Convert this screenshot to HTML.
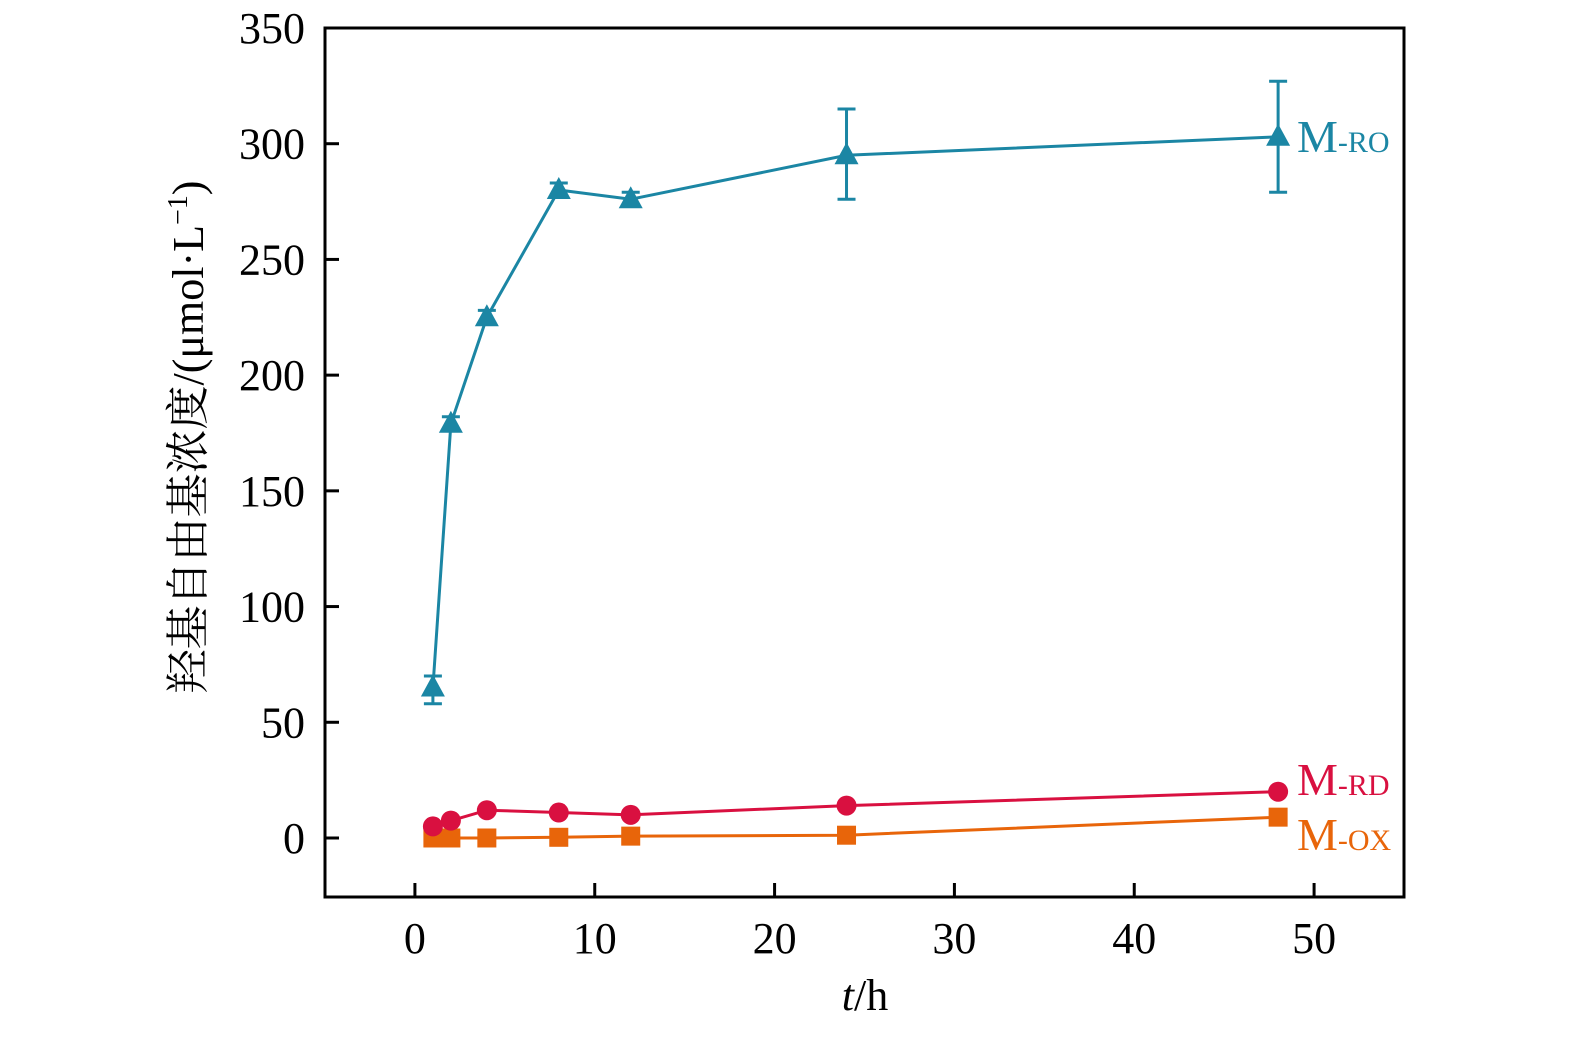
<!DOCTYPE html>
<html><head><meta charset="utf-8"><style>
body{margin:0;background:#fff;}
svg text{font-family:"Liberation Serif","Noto Serif CJK SC",serif;}
</style></head><body>
<svg width="1575" height="1032" viewBox="0 0 1575 1032" id="chart">
</svg>
<script>
const timesH=[1,2,4,8,12,24,48];
const roValues=[65,179,225,280,276,295,303];
const roErrLow=[58,176,222,277,273,276,279];
const roErrHigh=[70,182,228,283,279,315,327];
const rdValues=[5,7.5,12,11,10,14,20];
const oxValues=[0,0,0,0.3,0.8,1.2,9];
const xTicks=[0,10,20,30,40,50];
const yTicks=[0,50,100,150,200,250,300,350];
const L=325,R=1404,T=28,B=897;
const xMin=-5,xMax=55,yMin=-25.5,yMax=350;
const X=v=>L+(v-xMin)/(xMax-xMin)*(R-L);
const Y=v=>B-(v-yMin)/(yMax-yMin)*(B-T);
const svg=document.getElementById('chart');
const NS='http://www.w3.org/2000/svg';
function mk(tag,attrs,parent){const e=document.createElementNS(NS,tag);for(const k in attrs)e.setAttribute(k,attrs[k]);(parent||svg).appendChild(e);return e;}
let e;
e=mk('rect',{x:L,y:T,width:R-L,height:B-T,fill:'none',stroke:'#000','stroke-width':3});


xTicks.forEach(t=>{
 e=mk('line',{x1:X(t),x2:X(t),y1:B,y2:B-14,stroke:'#000','stroke-width':3});
 
 
 e=mk('text',{x:X(t),y:953,'font-size':44,'text-anchor':'middle'});e.textContent=t;
 
 
});
yTicks.forEach(t=>{
 e=mk('line',{x1:L,x2:L+14,y1:Y(t),y2:Y(t),stroke:'#000','stroke-width':3});
 
 
 e=mk('text',{x:305,y:Y(t)+15,'font-size':44,'text-anchor':'end'});e.textContent=t;
 
 
});
e=mk('text',{x:865,y:1010,'font-size':44,'text-anchor':'middle'});
e.innerHTML='<tspan font-style="italic">t</tspan>/h';


e=mk('text',{x:0,y:0,'font-size':44,'text-anchor':'middle',transform:'translate(203,437) rotate(-90)'});
e.innerHTML='羟基自由基浓度/(μmol·L<tspan font-size="28" dy="-16">−1</tspan><tspan dy="16">)</tspan>';


function series(vals,color,name,marker){
 e=mk('polyline',{points:vals.map((v,i)=>X(timesH[i])+','+Y(v)).join(' '),fill:'none',stroke:color,'stroke-width':3});
 
 
 vals.forEach((v,i)=>{
  const cx=X(timesH[i]),cy=Y(v);
  if(marker==='tri') e=mk('polygon',{points:`${cx},${cy-13} ${cx-12},${cy+9} ${cx+12},${cy+9}`,fill:color});
  else if(marker==='circ') e=mk('circle',{cx,cy,r:10,fill:color});
  else e=mk('rect',{x:cx-9.5,y:cy-9.5,width:19,height:19,fill:color});
  
  
 });
}
timesH.forEach((t,i)=>{
 const c='#1b86a4',x=X(t);
 e=mk('path',{d:`M${x},${Y(roErrLow[i])}V${Y(roErrHigh[i])}M${x-9},${Y(roErrLow[i])}h18M${x-9},${Y(roErrHigh[i])}h18`,stroke:c,'stroke-width':3,fill:'none'});
 
 
});
series(oxValues,'#e8650a','ox','sq');
series(rdValues,'#d91040','rd','circ');
series(roValues,'#1b86a4','ro','tri');
function lab(txt,sub,color,y,name){
 e=mk('text',{x:1297,y:y,'font-size':46,fill:color});
 e.innerHTML=txt+'<tspan font-size="30">-'+sub+'</tspan>';
 
 
}
lab('M','RO','#1b86a4',152,'label-m-ro');
lab('M','RD','#d91040',795,'label-m-rd');
lab('M','OX','#e8650a',850,'label-m-ox');
</script>
</body></html>
